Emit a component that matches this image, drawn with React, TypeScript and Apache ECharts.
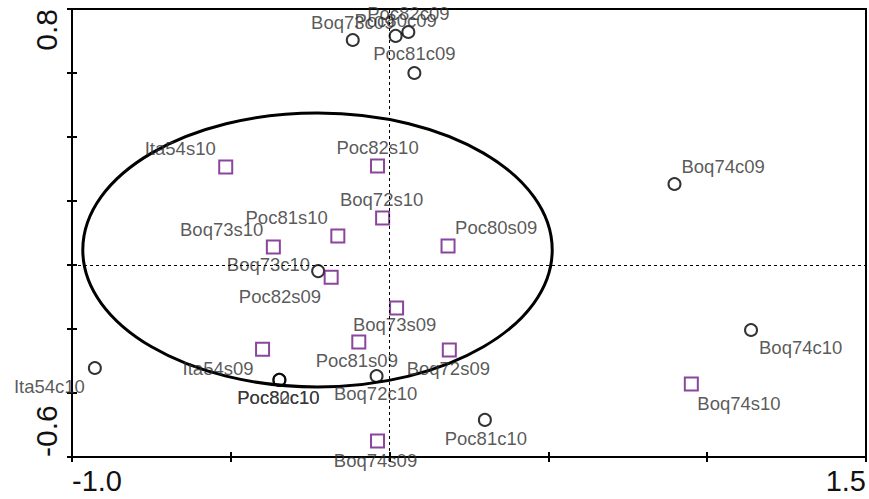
import React, { useEffect, useRef } from 'react';
import * as echarts from 'echarts';

// ---- data (ordination scores) ----
const circleNames = ['Boq73c09', 'Poc80c09', 'Poc82c09', 'Poc81c09', 'Boq74c09', 'Boq73c10', 'Ita54c10', 'Poc80c10', 'Poc82c10', 'Boq72c10', 'Poc81c10', 'Boq74c10'];
const circleX = [-0.116, 0.019, 0.059, 0.078, 0.897, -0.225, -0.928, -0.347, -0.347, -0.041, 0.300, 1.138];
const circleY = [0.703, 0.716, 0.728, 0.600, 0.253, -0.019, -0.322, -0.359, -0.359, -0.347, -0.484, -0.203];

const squareNames = ['Ita54s10', 'Poc82s10', 'Boq72s10', 'Poc81s10', 'Boq73s10', 'Poc80s09', 'Poc82s09', 'Boq73s09', 'Poc81s09', 'Ita54s09', 'Boq72s09', 'Boq74s10', 'Boq74s09'];
const squareX = [-0.516, -0.038, -0.022, -0.163, -0.366, 0.184, -0.184, 0.022, -0.097, -0.400, 0.188, 0.950, -0.038];
const squareY = [0.306, 0.309, 0.147, 0.091, 0.056, 0.059, -0.038, -0.134, -0.241, -0.263, -0.266, -0.372, -0.550];

const ellipseCenter = [-0.227, 0.047];
const ellipseRadii = [0.739, 0.428];

const xTickLabels = ['-1.0', '1.5'];
const yTickLabels = ['-0.6', '0.8'];

// ---- label placement (style): [dx, dy, align] relative to marker centre ----
const labelPlace: Record<string, [number, number, string]> = {
  Ita54s10: [-10, -19, 'right'],
  Poc82s10: [0, -19, 'center'],
  Boq72s10: [-1, -18, 'center'],
  Poc81s10: [-10, -18, 'right'],
  Boq73s10: [-10, -18, 'right'],
  Poc80s09: [7, -19, 'left'],
  Poc82s09: [-10, 19, 'right'],
  Boq73s09: [-2, 17, 'center'],
  Poc81s09: [-2, 18, 'center'],
  Ita54s09: [-9, 19, 'right'],
  Boq72s09: [-1, 18, 'center'],
  Boq74s10: [6, 19, 'left'],
  Boq74s09: [-2, 19, 'center'],
  Boq73c09: [0, -18, 'center'],
  Poc80c09: [0, -15, 'center'],
  Poc82c09: [0, -19, 'center'],
  Poc81c09: [0, -20, 'center'],
  Boq74c09: [7, -18, 'left'],
  Boq73c10: [-8, -7, 'right'],
  Ita54c10: [-10, 18, 'right'],
  Poc80c10: [-1, 18, 'center'],
  Poc82c10: [-1, 18, 'center'],
  Boq72c10: [-1, 17, 'center'],
  Poc81c10: [1, 19, 'center'],
  Boq74c10: [8, 18, 'left'],
};

const FONT = "'Liberation Sans', Arial, sans-serif";

function makePoints(names: string[], xs: number[], ys: number[]) {
  return names.map((n, i) => {
    const p = labelPlace[n] || [0, -18, 'center'];
    return {
      name: n,
      value: [xs[i], ys[i]],
      label: { offset: [p[0], p[1]], align: p[2] },
    };
  });
}

const axisLineStyle = { color: '#000', width: 2 };

export default function App() {
  const ref = useRef<HTMLDivElement>(null);
  useEffect(() => {
    document.body.style.margin = '0';
    const chart = echarts.init(ref.current!, undefined, { renderer: 'svg' });
    const dataLabel = {
      show: true,
      position: 'inside',
      formatter: '{b}',
      fontFamily: FONT,
      fontSize: 18.5,
      color: '#2e2e2e',
      verticalAlign: 'middle',
    };
    const option: any = {
      animation: false,
      backgroundColor: '#fff',
      grid: {
        left: 72,
        top: 9,
        width: 800,
        height: 448,
        show: true,
        borderColor: '#000',
        borderWidth: 2,
        backgroundColor: 'transparent',
        containLabel: false,
      },
      xAxis: [
        {
          type: 'value',
          min: -1,
          max: 1.5,
          interval: 0.5,
          position: 'bottom',
          axisLine: { show: true, onZero: false, lineStyle: axisLineStyle },
          axisTick: { show: true, inside: false, length: 5, lineStyle: axisLineStyle },
          axisLabel: {
            show: true,
            margin: 9,
            fontSize: 29,
            lineHeight: 30,
            fontFamily: FONT,
            color: '#111',
            showMinLabel: true,
            showMaxLabel: true,
            alignMinLabel: 'left',
            alignMaxLabel: 'right',
            formatter: (v: number) => {
              const s = v.toFixed(1);
              return xTickLabels.includes(s) ? s : '';
            },
          },
          splitLine: { show: false },
        },
        {
          type: 'value',
          min: -1,
          max: 1.5,
          interval: 0.5,
          position: 'bottom',
          axisLine: { show: false, onZero: false },
          axisTick: { show: true, inside: true, length: 5, lineStyle: axisLineStyle },
          axisLabel: { show: false },
          splitLine: { show: false },
        },
      ],
      yAxis: [
        {
          type: 'value',
          min: -0.6,
          max: 0.8,
          interval: 0.2,
          position: 'left',
          axisLine: { show: true, onZero: false, lineStyle: axisLineStyle },
          axisTick: { show: true, inside: false, length: 5, lineStyle: axisLineStyle },
          axisLabel: {
            show: true,
            margin: 11,
            rotate: 90,
            fontSize: 30,
            fontFamily: FONT,
            color: '#111',
            showMinLabel: true,
            showMaxLabel: true,
            alignMinLabel: 'left',
            alignMaxLabel: 'right',
            formatter: (v: number) => {
              const s = v.toFixed(1);
              return yTickLabels.includes(s) ? s : '';
            },
          },
          splitLine: { show: false },
        },
        {
          type: 'value',
          min: -0.6,
          max: 0.8,
          interval: 0.2,
          position: 'left',
          axisLine: { show: false, onZero: false },
          axisTick: { show: true, inside: true, length: 5, lineStyle: axisLineStyle },
          axisLabel: { show: false },
          splitLine: { show: false },
        },
      ],
      series: [
        {
          type: 'custom',
          coordinateSystem: 'cartesian2d',
          xAxisIndex: 0,
          yAxisIndex: 0,
          silent: true,
          z: 1,
          clip: false,
          renderItem: (params: any, api: any) => {
            const c = api.coord([api.value(0), api.value(1)]);
            const s = api.size([api.value(2), api.value(3)]);
            return {
              type: 'ellipse',
              shape: { cx: c[0], cy: c[1], rx: s[0], ry: s[1] },
              style: { fill: 'none', stroke: '#000', lineWidth: 3 },
            };
          },
          data: [[ellipseCenter[0], ellipseCenter[1], ellipseRadii[0], ellipseRadii[1]]],
        },
        {
          type: 'scatter',
          name: 'samples c',
          xAxisIndex: 0,
          yAxisIndex: 0,
          z: 3,
          symbol: 'circle',
          symbolSize: 12,
          itemStyle: { color: 'rgba(0,0,0,0)', borderColor: '#000', borderWidth: 2 },
          label: dataLabel,
          data: makePoints(circleNames, circleX, circleY),
          markLine: {
            silent: true,
            symbol: ['none', 'none'],
            label: { show: false },
            lineStyle: { color: '#000', width: 1, type: [3, 3] },
            data: [{ xAxis: 0 }, { yAxis: 0 }],
          },
        },
        {
          type: 'scatter',
          name: 'samples s',
          xAxisIndex: 0,
          yAxisIndex: 0,
          z: 3,
          symbol: 'rect',
          symbolSize: 13,
          itemStyle: { color: 'rgba(0,0,0,0)', borderColor: '#6e1784', borderWidth: 2 },
          label: dataLabel,
          data: makePoints(squareNames, squareX, squareY),
        },
      ],
    };
    chart.setOption(option);
    return () => chart.dispose();
  }, []);
  return <div ref={ref} style={{ width: 869, height: 499 }} />;
}
